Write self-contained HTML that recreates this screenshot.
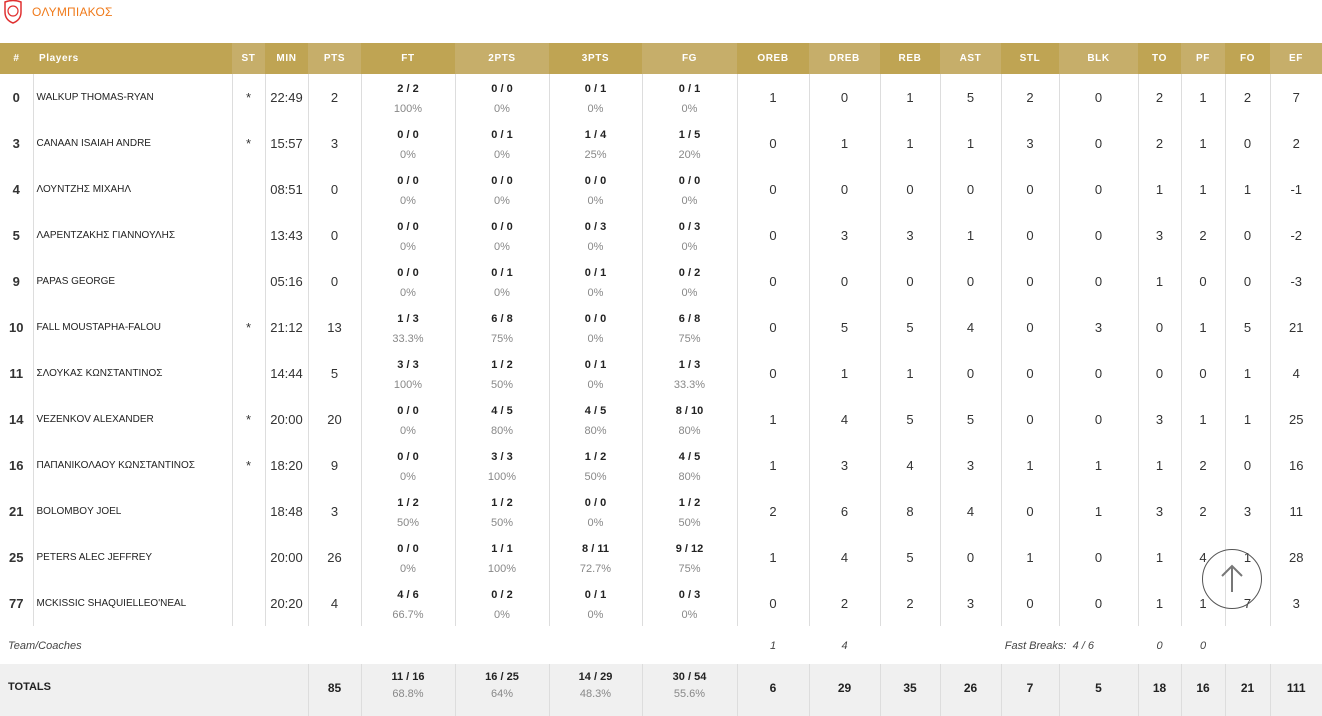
<!DOCTYPE html>
<html><head><meta charset="utf-8"><style>
body{margin:0;width:1322px;height:699px;overflow:hidden;background:#fff;font-family:"Liberation Sans","DejaVu Sans",sans-serif;position:relative}
.logo{position:absolute;left:3px;top:0;width:20px;height:24px}
.team{position:absolute;left:32px;top:5px;color:#f07a1a;font-size:12px;letter-spacing:0.2px}
table{position:absolute;left:0;top:43px;border-collapse:collapse;table-layout:fixed;width:1322px}
th{height:31px;padding:0;color:#fff;font-size:10px;font-weight:bold;letter-spacing:0.6px;text-align:center;background:#bfa453}
th.l{background:#c6ae6a}
th.p{text-align:left;padding-left:6px}
td{padding:0;text-align:center;font-size:13px;color:#333;border-left:1px solid #ddd;height:46px;vertical-align:middle}
td:first-child{border-left:none;font-weight:bold;font-size:13px}
td.n{text-align:left;padding-left:3px;font-size:10px;color:#222}
td .f{font-weight:bold;font-size:11px;color:#222;line-height:14px;margin-top:4px}
td .c{font-size:11px;color:#888;line-height:14px;margin-top:6px}
tr.tm td{border:none;height:36px;font-style:italic;font-size:11px;color:#444;font-weight:normal;padding-top:2px}
tr.tot td{background:#f0f0f0;height:35px;font-weight:bold;font-size:12px;color:#222;vertical-align:top;padding-top:17px;border-left:1px solid #ddd}
tr.tot td.fr{padding-top:6px}
tr.tot td .f{margin-top:0}
tr.tot td .c{margin-top:3px;font-weight:normal}
.up{position:absolute;left:1202px;top:549px;width:58px;height:58px;border:1px solid #555;border-radius:50%}
</style></head><body>
<svg class="logo" viewBox="0 0 20 24"><path d="M2 2 Q10 -1 18 2 L18 12 Q18 20 10 23 Q2 20 2 12Z" fill="none" stroke="#e03030" stroke-width="1.5"/><circle cx="10" cy="11" r="5" fill="none" stroke="#e03030" stroke-width="1.2"/></svg>
<div class="team">ΟΛΥΜΠΙΑΚΟΣ</div>
<table>
<colgroup><col style="width:33px"><col style="width:199px"><col style="width:33px"><col style="width:43px"><col style="width:53px"><col style="width:94px"><col style="width:94px"><col style="width:93px"><col style="width:95px"><col style="width:72px"><col style="width:71px"><col style="width:60px"><col style="width:61px"><col style="width:58px"><col style="width:79px"><col style="width:43px"><col style="width:44px"><col style="width:45px"><col style="width:52px"></colgroup>
<tr><th>#</th><th class="p">Players</th><th class="l">ST</th><th>MIN</th><th class="l">PTS</th><th>FT</th><th class="l">2PTS</th><th>3PTS</th><th class="l">FG</th><th>OREB</th><th class="l">DREB</th><th>REB</th><th class="l">AST</th><th>STL</th><th class="l">BLK</th><th>TO</th><th class="l">PF</th><th>FO</th><th class="l">EF</th></tr>
<tr><td>0</td><td class="n">WALKUP THOMAS-RYAN</td><td>*</td><td>22:49</td><td>2</td><td><div class="f">2 / 2</div><div class="c">100%</div></td><td><div class="f">0 / 0</div><div class="c">0%</div></td><td><div class="f">0 / 1</div><div class="c">0%</div></td><td><div class="f">0 / 1</div><div class="c">0%</div></td><td>1</td><td>0</td><td>1</td><td>5</td><td>2</td><td>0</td><td>2</td><td>1</td><td>2</td><td>7</td></tr>
<tr><td>3</td><td class="n">CANAAN ISAIAH ANDRE</td><td>*</td><td>15:57</td><td>3</td><td><div class="f">0 / 0</div><div class="c">0%</div></td><td><div class="f">0 / 1</div><div class="c">0%</div></td><td><div class="f">1 / 4</div><div class="c">25%</div></td><td><div class="f">1 / 5</div><div class="c">20%</div></td><td>0</td><td>1</td><td>1</td><td>1</td><td>3</td><td>0</td><td>2</td><td>1</td><td>0</td><td>2</td></tr>
<tr><td>4</td><td class="n">ΛΟΥΝΤΖΗΣ ΜΙΧΑΗΛ</td><td></td><td>08:51</td><td>0</td><td><div class="f">0 / 0</div><div class="c">0%</div></td><td><div class="f">0 / 0</div><div class="c">0%</div></td><td><div class="f">0 / 0</div><div class="c">0%</div></td><td><div class="f">0 / 0</div><div class="c">0%</div></td><td>0</td><td>0</td><td>0</td><td>0</td><td>0</td><td>0</td><td>1</td><td>1</td><td>1</td><td>-1</td></tr>
<tr><td>5</td><td class="n">ΛΑΡΕΝΤΖΑΚΗΣ ΓΙΑΝΝΟΥΛΗΣ</td><td></td><td>13:43</td><td>0</td><td><div class="f">0 / 0</div><div class="c">0%</div></td><td><div class="f">0 / 0</div><div class="c">0%</div></td><td><div class="f">0 / 3</div><div class="c">0%</div></td><td><div class="f">0 / 3</div><div class="c">0%</div></td><td>0</td><td>3</td><td>3</td><td>1</td><td>0</td><td>0</td><td>3</td><td>2</td><td>0</td><td>-2</td></tr>
<tr><td>9</td><td class="n">PAPAS GEORGE</td><td></td><td>05:16</td><td>0</td><td><div class="f">0 / 0</div><div class="c">0%</div></td><td><div class="f">0 / 1</div><div class="c">0%</div></td><td><div class="f">0 / 1</div><div class="c">0%</div></td><td><div class="f">0 / 2</div><div class="c">0%</div></td><td>0</td><td>0</td><td>0</td><td>0</td><td>0</td><td>0</td><td>1</td><td>0</td><td>0</td><td>-3</td></tr>
<tr><td>10</td><td class="n">FALL MOUSTAPHA-FALOU</td><td>*</td><td>21:12</td><td>13</td><td><div class="f">1 / 3</div><div class="c">33.3%</div></td><td><div class="f">6 / 8</div><div class="c">75%</div></td><td><div class="f">0 / 0</div><div class="c">0%</div></td><td><div class="f">6 / 8</div><div class="c">75%</div></td><td>0</td><td>5</td><td>5</td><td>4</td><td>0</td><td>3</td><td>0</td><td>1</td><td>5</td><td>21</td></tr>
<tr><td>11</td><td class="n">ΣΛΟΥΚΑΣ ΚΩΝΣΤΑΝΤΙΝΟΣ</td><td></td><td>14:44</td><td>5</td><td><div class="f">3 / 3</div><div class="c">100%</div></td><td><div class="f">1 / 2</div><div class="c">50%</div></td><td><div class="f">0 / 1</div><div class="c">0%</div></td><td><div class="f">1 / 3</div><div class="c">33.3%</div></td><td>0</td><td>1</td><td>1</td><td>0</td><td>0</td><td>0</td><td>0</td><td>0</td><td>1</td><td>4</td></tr>
<tr><td>14</td><td class="n">VEZENKOV ALEXANDER</td><td>*</td><td>20:00</td><td>20</td><td><div class="f">0 / 0</div><div class="c">0%</div></td><td><div class="f">4 / 5</div><div class="c">80%</div></td><td><div class="f">4 / 5</div><div class="c">80%</div></td><td><div class="f">8 / 10</div><div class="c">80%</div></td><td>1</td><td>4</td><td>5</td><td>5</td><td>0</td><td>0</td><td>3</td><td>1</td><td>1</td><td>25</td></tr>
<tr><td>16</td><td class="n">ΠΑΠΑΝΙΚΟΛΑΟΥ ΚΩΝΣΤΑΝΤΙΝΟΣ</td><td>*</td><td>18:20</td><td>9</td><td><div class="f">0 / 0</div><div class="c">0%</div></td><td><div class="f">3 / 3</div><div class="c">100%</div></td><td><div class="f">1 / 2</div><div class="c">50%</div></td><td><div class="f">4 / 5</div><div class="c">80%</div></td><td>1</td><td>3</td><td>4</td><td>3</td><td>1</td><td>1</td><td>1</td><td>2</td><td>0</td><td>16</td></tr>
<tr><td>21</td><td class="n">BOLOMBOY JOEL</td><td></td><td>18:48</td><td>3</td><td><div class="f">1 / 2</div><div class="c">50%</div></td><td><div class="f">1 / 2</div><div class="c">50%</div></td><td><div class="f">0 / 0</div><div class="c">0%</div></td><td><div class="f">1 / 2</div><div class="c">50%</div></td><td>2</td><td>6</td><td>8</td><td>4</td><td>0</td><td>1</td><td>3</td><td>2</td><td>3</td><td>11</td></tr>
<tr><td>25</td><td class="n">PETERS ALEC JEFFREY</td><td></td><td>20:00</td><td>26</td><td><div class="f">0 / 0</div><div class="c">0%</div></td><td><div class="f">1 / 1</div><div class="c">100%</div></td><td><div class="f">8 / 11</div><div class="c">72.7%</div></td><td><div class="f">9 / 12</div><div class="c">75%</div></td><td>1</td><td>4</td><td>5</td><td>0</td><td>1</td><td>0</td><td>1</td><td>4</td><td>1</td><td>28</td></tr>
<tr><td>77</td><td class="n">MCKISSIC SHAQUIELLEO'NEAL</td><td></td><td>20:20</td><td>4</td><td><div class="f">4 / 6</div><div class="c">66.7%</div></td><td><div class="f">0 / 2</div><div class="c">0%</div></td><td><div class="f">0 / 1</div><div class="c">0%</div></td><td><div class="f">0 / 3</div><div class="c">0%</div></td><td>0</td><td>2</td><td>2</td><td>3</td><td>0</td><td>0</td><td>1</td><td>1</td><td>7</td><td>3</td></tr>
<tr class="tm"><td colspan="9" style="text-align:left;padding-left:8px;font-weight:normal;font-size:11px">Team/Coaches</td><td>1</td><td>4</td><td colspan="4" style="text-align:right;padding-right:44px">Fast Breaks: &nbsp;4 / 6</td><td>0</td><td>0</td><td></td><td></td></tr>
<tr class="tot"><td colspan="4" style="text-align:left;padding-left:8px;font-size:11px;border-left:none">TOTALS</td><td>85</td><td class="fr"><div class="f">11 / 16</div><div class="c">68.8%</div></td><td class="fr"><div class="f">16 / 25</div><div class="c">64%</div></td><td class="fr"><div class="f">14 / 29</div><div class="c">48.3%</div></td><td class="fr"><div class="f">30 / 54</div><div class="c">55.6%</div></td><td>6</td><td>29</td><td>35</td><td>26</td><td>7</td><td>5</td><td>18</td><td>16</td><td>21</td><td>111</td></tr>
</table>
<div class="up"><svg width="58" height="58" viewBox="0 0 58 58"><path d="M29 42 V16 M19 26 L29 16 L39 26" fill="none" stroke="#777" stroke-width="2"/></svg></div>
</body></html>
